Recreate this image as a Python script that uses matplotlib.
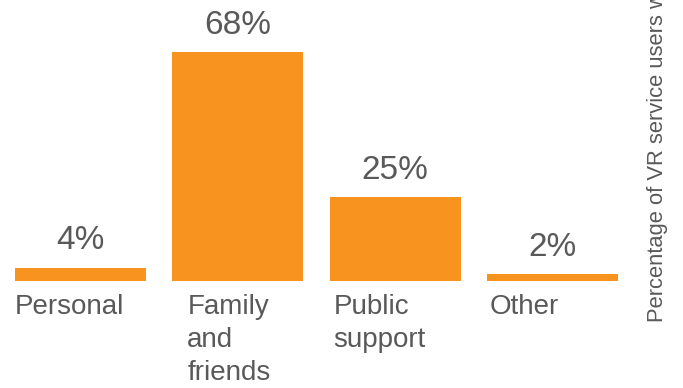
import matplotlib
matplotlib.use("Agg")
import matplotlib.pyplot as plt

categories = ["Personal", "Family\nand\nfriends", "Public\nsupport", "Other"]
values = [4, 68, 25, 2]
value_labels = ["4%", "68%", "25%", "2%"]
ylabel = "Percentage of VR service users who received support"

plt.rcParams['font.family'] = ['Liberation Sans', 'DejaVu Sans']
TXT = '#595959'
BAR = '#F7931E'

W, H = 683, 388
fig = plt.figure(figsize=(W / 100, H / 100), dpi=100)
ax = fig.add_axes([15 / W, 107 / H, 603 / W, 229 / H])
width = 0.833
x = list(range(len(values)))
ax.bar(x, values, width=width, color=BAR)
ax.set_xlim(-width / 2, len(values) - 1 + width / 2)
ax.set_ylim(0, 68)
ax.axis('off')

for xi, v, lab in zip(x, values, value_labels):
    ax.annotate(lab, (xi, v), xytext=(0, 8), textcoords='offset points',
                ha='center', va='bottom', fontsize=24, color=TXT)

label_offsets_px = [0, 15, 4, 3]
for xi, cat, off in zip(x, categories, label_offsets_px):
    ax.annotate(cat, (xi - width / 2, 0), xytext=(off * 0.72, -9),
                textcoords='offset points', ha='left', va='top',
                fontsize=20, color=TXT, linespacing=1.36)

fig.text(657 / W, 66 / H, ylabel, rotation=90, ha='center', va='bottom',
         fontsize=15.8, color=TXT)

fig.savefig("out.png", dpi=100)
